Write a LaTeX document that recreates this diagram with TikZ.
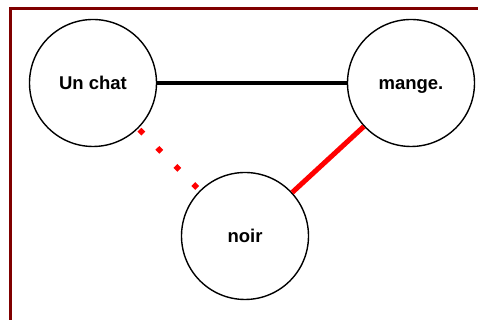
\documentclass[tikz,border=0pt]{standalone}
\usepackage{fontspec}
\setmainfont{Liberation Sans}
\definecolor{frame}{HTML}{800000}
\begin{document}
\begin{tikzpicture}[x=1pt,y=1pt,
  word/.style={circle,draw=black,line width=1.4pt,minimum size=127pt,inner sep=0pt,
    font=\fontsize{18.5}{20}\selectfont\bfseries,text height=13.2pt,text depth=0pt},
  plain/.style={line width=3.2pt,black},
  strong/.style={line width=5pt,red},
  dots/.style={line width=5.5pt,red,dash pattern=on 5.5pt off 20pt,dash phase=23.8pt}]
\useasboundingbox (0,0) rectangle (480,320);
\fill[white] (0,0) rectangle (480,320);
\coordinate (fb) at (10.5,0);
\coordinate (ft) at (10.5,311.5);
\coordinate (fr) at (478,311.5);
\draw[frame,line width=3pt] (fb) -- (ft) -- (fr);
\node[word] (a) at (93,237) {Un chat};
\node[word] (b) at (411,237) {mange.};
\node[word] (c) at (245,84) {noir};
\draw[plain] (a) -- (b);
\draw[strong] (b) -- (c);
\draw[dots] (a) -- (c);
\end{tikzpicture}
\end{document}
